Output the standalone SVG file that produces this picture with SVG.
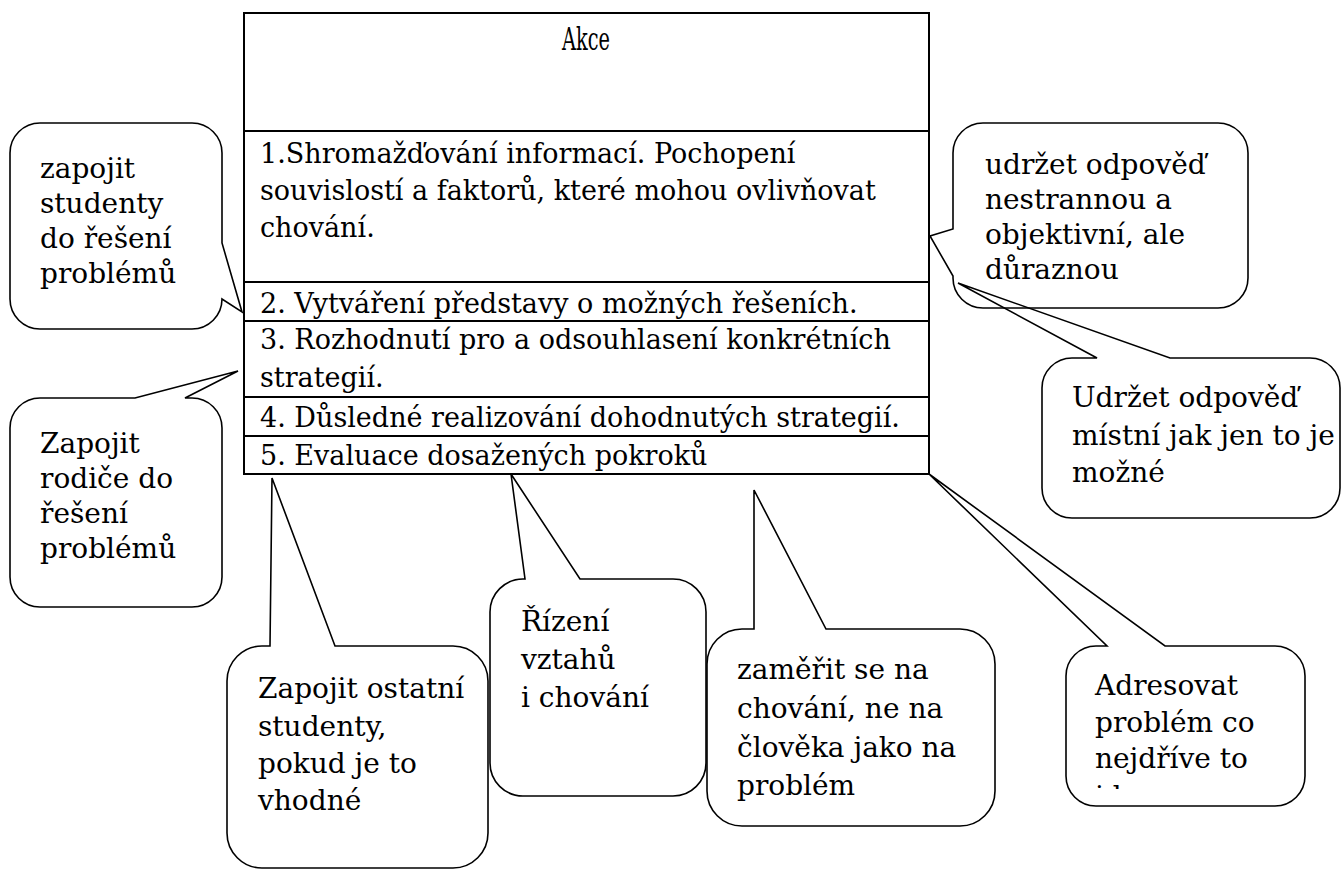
<svg xmlns="http://www.w3.org/2000/svg" width="1342" height="870" viewBox="0 0 1342 870">
<defs>
<style>
.t{font-family:"DejaVu Serif","Liberation Serif",serif;font-size:27px;fill:#000}
.c{font-family:"DejaVu Serif","Liberation Serif",serif;font-size:28px;fill:#000}
.tl{stroke:#000;stroke-width:2;fill:none}
.cb{fill:#fff;stroke:#000;stroke-width:1.6;stroke-linejoin:miter}
</style>
<clipPath id="clip8"><rect x="1066" y="646" width="239" height="143"/></clipPath>
</defs>
<rect width="1342" height="870" fill="#fff"/>

<g id="table">
<rect x="244" y="13" width="685" height="461" fill="#fff" class="tl"/>
<line class="tl" x1="244" y1="131" x2="929" y2="131"/>
<line class="tl" x1="244" y1="282" x2="929" y2="282"/>
<line class="tl" x1="244" y1="321" x2="929" y2="321"/>
<line class="tl" x1="244" y1="397" x2="929" y2="397"/>
<line class="tl" x1="244" y1="436" x2="929" y2="436"/>
<text class="t" x="562" y="50" style="font-size:32px" textLength="48" lengthAdjust="spacingAndGlyphs">Akce</text>
<text class="t" x="260" y="163">1.Shromažďování informací. Pochopení</text>
<text class="t" x="260" y="200">souvislostí a faktorů, které mohou ovlivňovat</text>
<text class="t" x="260" y="237">chování.</text>
<text class="t" x="260" y="313">2. Vytváření představy o možných řešeních.</text>
<text class="t" x="260" y="349">3. Rozhodnutí pro a odsouhlasení konkrétních</text>
<text class="t" x="260" y="387">strategií.</text>
<text class="t" x="260" y="427">4. Důsledné realizování dohodnutých strategií.</text>
<text class="t" x="260" y="465">5. Evaluace dosažených pokroků</text>
</g>

<g id="callout-students">
<path class="cb" d="M40,123 H192 A30,30 0 0 1 222,153 V243 L242,312 L222,299 A30,30 0 0 1 192,329 H40 A30,30 0 0 1 10,299 V153 A30,30 0 0 1 40,123 Z"/>
<text class="c" x="40" y="178">zapojit</text>
<text class="c" x="40" y="213">studenty</text>
<text class="c" x="40" y="248">do řešení</text>
<text class="c" x="40" y="283">problémů</text>
</g>

<g id="callout-parents">
<path class="cb" d="M40,398 H135 L238,371 L185,398 H192 A30,30 0 0 1 222,428 V577 A30,30 0 0 1 192,607 H40 A30,30 0 0 1 10,577 V428 A30,30 0 0 1 40,398 Z"/>
<text class="c" x="40" y="453">Zapojit</text>
<text class="c" x="40" y="488">rodiče do</text>
<text class="c" x="40" y="523">řešení</text>
<text class="c" x="40" y="558">problémů</text>
</g>

<g id="callout-local">
<path class="cb" d="M1072,358 H1097 L958,283 L1170,358 H1310 A30,30 0 0 1 1340,388 V488 A30,30 0 0 1 1310,518 H1072 A30,30 0 0 1 1042,488 V388 A30,30 0 0 1 1072,358 Z"/>
<text class="c" x="1072" y="407">Udržet odpověď</text>
<text class="c" x="1072" y="445">místní jak jen to je</text>
<text class="c" x="1072" y="482">možné</text>
</g>

<g id="callout-neutral">
<path class="cb" style="fill:none" d="M983,123 H1218 A30,30 0 0 1 1248,153 V278 A30,30 0 0 1 1218,308 H983 A30,30 0 0 1 953,278 V276 L930,236 L953,229 V153 A30,30 0 0 1 983,123 Z"/>
<text class="c" x="985" y="174">udržet odpověď</text>
<text class="c" x="985" y="209">nestrannou a</text>
<text class="c" x="985" y="244">objektivní, ale</text>
<text class="c" x="985" y="279">důraznou</text>
</g>

<g id="callout-others">
<path class="cb" d="M262,646 H270 L272,478 L335,646 H453 A35,35 0 0 1 488,681 V833 A35,35 0 0 1 453,868 H262 A35,35 0 0 1 227,833 V681 A35,35 0 0 1 262,646 Z"/>
<text class="c" x="258" y="698">Zapojit ostatní</text>
<text class="c" x="258" y="736">studenty,</text>
<text class="c" x="258" y="773">pokud je to</text>
<text class="c" x="258" y="810">vhodné</text>
</g>

<g id="callout-relations">
<path class="cb" d="M523,579 H525 L511,474 L580,579 H673 A33,33 0 0 1 706,612 V763 A33,33 0 0 1 673,796 H523 A33,33 0 0 1 490,763 V612 A33,33 0 0 1 523,579 Z"/>
<text class="c" x="521" y="631">Řízení</text>
<text class="c" x="521" y="669">vztahů</text>
<text class="c" x="521" y="707">i chování</text>
</g>

<g id="callout-behaviour">
<path class="cb" d="M742,629 H754 L754,490 L826,629 H960 A35,35 0 0 1 995,664 V791 A35,35 0 0 1 960,826 H742 A35,35 0 0 1 707,791 V664 A35,35 0 0 1 742,629 Z"/>
<text class="c" x="737" y="679">zaměřit se na</text>
<text class="c" x="737" y="718">chování, ne na</text>
<text class="c" x="737" y="757">člověka jako na</text>
<text class="c" x="737" y="795">problém</text>
</g>

<g id="callout-address">
<path class="cb" d="M1096,646 H1107 L929,474 L1165,646 H1275 A30,30 0 0 1 1305,676 V776 A30,30 0 0 1 1275,806 H1096 A30,30 0 0 1 1066,776 V676 A30,30 0 0 1 1096,646 Z"/>
<text class="c" x="1095" y="695">Adresovat</text>
<text class="c" x="1095" y="732">problém co</text>
<text class="c" x="1095" y="768">nejdříve to</text>
<text class="c" x="1095" y="806" clip-path="url(#clip8)">jde</text>
</g>
</svg>
